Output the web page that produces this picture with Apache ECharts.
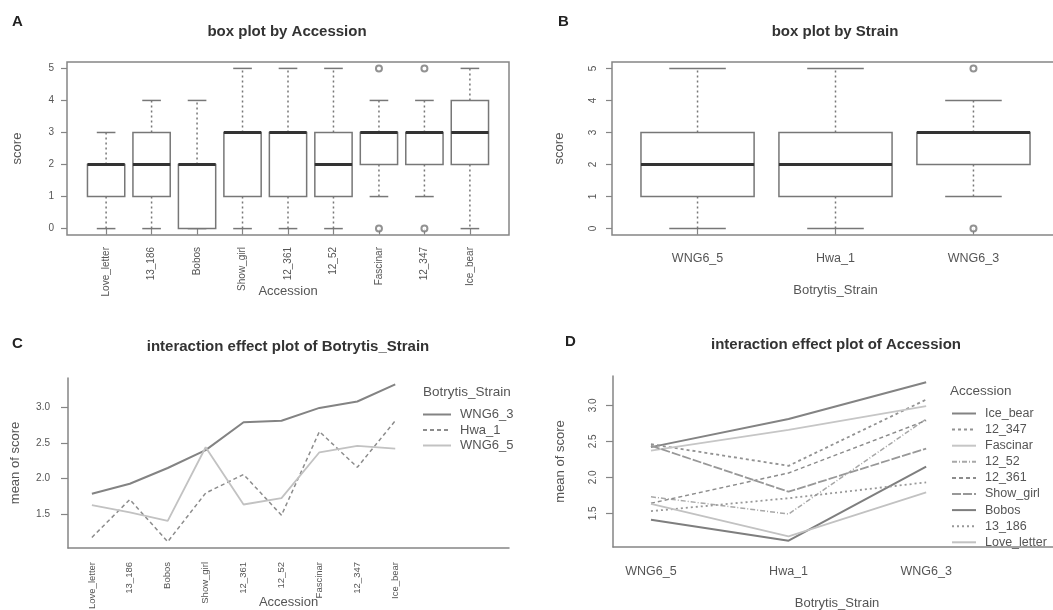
<!DOCTYPE html>
<html>
<head>
<meta charset="utf-8">
<script src="https://cdn.jsdelivr.net/npm/echarts@6/dist/echarts.min.js"></script>
<style>
html, body { margin: 0; background: #fff; }
#main { width: 1053px; height: 610px; }
</style>
</head>
<body>
<div id="main"></div>
<script>
var accessions = ['Love_letter', '13_186', 'Bobos', 'Show_girl', '12_361', '12_52', 'Fascinar', '12_347', 'Ice_bear'];
var strains = ['WNG6_5', 'Hwa_1', 'WNG6_3'];

// box stats: [min, Q1, median, Q3, max]
var accBox = [[0, 1, 2, 2, 3], [0, 1, 2, 3, 4], [0, 0, 2, 2, 4], [0, 1, 3, 3, 5], [0, 1, 3, 3, 5],
              [0, 1, 2, 3, 5], [1, 2, 3, 3, 4], [1, 2, 3, 3, 4], [0, 2, 3, 4, 5]];
var accOutlierName = ['Fascinar', 'Fascinar', '12_347', '12_347'];
var accOutlierValue = [0, 5, 0, 5];

var strainBox = [[0, 1, 2, 3, 5], [0, 1, 2, 3, 5], [1, 2, 3, 3, 4]];
var strainOutlierName = ['WNG6_3', 'WNG6_3'];
var strainOutlierValue = [0, 5];

// mean of score, one value per accession (same order as accessions)
var meanWNG6_3 = [1.79, 1.93, 2.15, 2.40, 2.79, 2.81, 2.99, 3.08, 3.32];
var meanHwa_1 = [1.18, 1.71, 1.12, 1.80, 2.06, 1.49, 2.66, 2.16, 2.81];
var meanWNG6_5 = [1.63, 1.53, 1.41, 2.44, 1.64, 1.73, 2.37, 2.46, 2.42];

var scoreTicks = [0, 1, 2, 3, 4, 5];
var meanTicks = [1.5, 2.0, 2.5, 3.0];
var strainLegend = ['WNG6_3', 'Hwa_1', 'WNG6_5'];
var accLegend = ['Ice_bear', '12_347', 'Fascinar', '12_52', '12_361', 'Show_girl', 'Bobos', '13_186', 'Love_letter'];

var FONT = '"Liberation Sans", Arial, sans-serif';
var frameColor = '#858585';
var boxColor = '#777';
var labelColor = '#555';

// line looks
var strainStyle = {
	'WNG6_3': { color: '#838383', width: 2, type: 'solid' },
	'Hwa_1': { color: '#8c8c8c', width: 1.5, type: [4, 3] },
	'WNG6_5': { color: '#c2c2c2', width: 1.8, type: 'solid' }
};
var accStyle = {
	'Ice_bear': { color: '#838383', width: 2, type: 'solid' },
	'12_347': { color: '#929292', width: 1.8, type: [3, 3] },
	'Fascinar': { color: '#c6c6c6', width: 1.8, type: 'solid' },
	'12_52': { color: '#a8a8a8', width: 1.5, type: [5, 2, 1, 2] },
	'12_361': { color: '#8c8c8c', width: 1.5, type: [4, 3] },
	'Show_girl': { color: '#989898', width: 1.8, type: [9, 2] },
	'Bobos': { color: '#7e7e7e', width: 2, type: 'solid' },
	'13_186': { color: '#989898', width: 1.8, type: [2, 3] },
	'Love_letter': { color: '#c2c2c2', width: 1.8, type: 'solid' }
};

function renderBox(params, api) {
	var x = api.value(0);
	var lo = api.value(1), q1 = api.value(2), md = api.value(3), q3 = api.value(4), hi = api.value(5);
	var half = api.size([0.41, 0])[0];
	var cap = half / 2;
	var pLo = api.coord([x, lo]), pQ1 = api.coord([x, q1]), pMd = api.coord([x, md]);
	var pQ3 = api.coord([x, q3]), pHi = api.coord([x, hi]);
	var cx = pMd[0];
	var solid = { stroke: boxColor, lineWidth: 1.5 };
	var dash = { stroke: boxColor, lineWidth: 1.5, lineDash: [2, 3] };
	var kids = [];
	if (hi > q3) kids.push({ type: 'line', shape: { x1: cx, y1: pQ3[1], x2: cx, y2: pHi[1] }, style: dash });
	if (lo < q1) kids.push({ type: 'line', shape: { x1: cx, y1: pQ1[1], x2: cx, y2: pLo[1] }, style: dash });
	kids.push({ type: 'line', shape: { x1: cx - cap, y1: pHi[1], x2: cx + cap, y2: pHi[1] }, style: solid });
	kids.push({ type: 'line', shape: { x1: cx - cap, y1: pLo[1], x2: cx + cap, y2: pLo[1] }, style: solid });
	kids.push({ type: 'rect', shape: { x: cx - half, y: pQ3[1], width: half * 2, height: pQ1[1] - pQ3[1] },
		style: { fill: '#fff', stroke: boxColor, lineWidth: 1.5 } });
	kids.push({ type: 'line', shape: { x1: cx - half, y1: pMd[1], x2: cx + half, y2: pMd[1] },
		style: { stroke: '#333', lineWidth: 3 } });
	return { type: 'group', children: kids };
}

function tickAxis(extra) {
	var base = {
		type: 'value',
		axisLine: { show: false },
		splitLine: { show: false },
		axisTick: { show: true, length: 6, lineStyle: { color: frameColor, width: 1.2 } },
		axisLabel: { color: labelColor, fontFamily: FONT, fontSize: 10 },
		nameLocation: 'middle',
		nameMoveOverlap: false,
		nameTextStyle: { color: labelColor, fontFamily: FONT, fontSize: 13 }
	};
	return echarts.util.merge(base, extra, true);
}

var idx1 = function (n) { var a = []; for (var i = 1; i <= n; i++) a.push(i); return a; };

var gridBase = { show: false, outerBoundsMode: 'none', containLabel: false };

var option = {
	animation: false,
	backgroundColor: '#fff',
	grid: [
		echarts.util.merge({ left: 67, top: 62, width: 442, height: 173, show: true, borderColor: frameColor, borderWidth: 1.5 }, gridBase),
		echarts.util.merge({ left: 612, top: 62, width: 447, height: 173, show: true, borderColor: frameColor, borderWidth: 1.5 }, gridBase),
		echarts.util.merge({ left: 68, top: 378, width: 441, height: 170 }, gridBase),
		echarts.util.merge({ left: 613, top: 376, width: 448, height: 171 }, gridBase)
	],
	xAxis: [
		tickAxis({ gridIndex: 0, min: 0.14, max: 9.86, name: 'Accession', nameGap: 50,
			axisTick: { customValues: idx1(9) },
			axisLabel: { customValues: idx1(9), rotate: 90, margin: 12, fontSize: 10,
				formatter: function (v) { return accessions[Math.round(v) - 1]; } } }),
		tickAxis({ gridIndex: 1, min: 0.38, max: 3.62, name: 'Botrytis_Strain', nameGap: 49,
			axisTick: { customValues: idx1(3) },
			axisLabel: { customValues: idx1(3), margin: 17, fontSize: 12.5,
				formatter: function (v) { return strains[Math.round(v) - 1]; } } }),
		tickAxis({ gridIndex: 2, min: 0.37, max: 12.0, name: 'Accession', nameGap: 48,
			axisLine: { show: true, lineStyle: { color: frameColor, width: 1.5 } },
			axisTick: { show: false },
			axisLabel: { customValues: idx1(9), rotate: 90, margin: 14, fontSize: 9.5,
				formatter: function (v) { return accessions[Math.round(v) - 1]; } } }),
		tickAxis({ gridIndex: 3, min: 0.724, max: 3.98, name: 'Botrytis_Strain', nameGap: 50,
			axisLine: { show: true, lineStyle: { color: frameColor, width: 1.5 } },
			axisTick: { show: false },
			axisLabel: { customValues: idx1(3), margin: 18, fontSize: 12.5,
				formatter: function (v) { return strains[Math.round(v) - 1]; } } })
	],
	yAxis: [
		tickAxis({ gridIndex: 0, min: -0.2, max: 5.2, name: 'score', nameGap: 43,
			axisTick: { customValues: scoreTicks },
			axisLabel: { customValues: scoreTicks, margin: 13 } }),
		tickAxis({ gridIndex: 1, min: -0.2, max: 5.2, name: 'score', nameGap: 46,
			axisTick: { customValues: scoreTicks },
			axisLabel: { customValues: scoreTicks, rotate: 90, margin: 14 } }),
		tickAxis({ gridIndex: 2, min: 1.032, max: 3.408, name: 'mean of score', nameGap: 46,
			axisLine: { show: true, lineStyle: { color: frameColor, width: 1.5 } },
			axisTick: { customValues: meanTicks, length: 7 },
			axisLabel: { customValues: meanTicks, margin: 18,
				formatter: function (v) { return v.toFixed(1); } } }),
		tickAxis({ gridIndex: 3, min: 1.032, max: 3.408, name: 'mean of score', nameGap: 46,
			axisLine: { show: true, lineStyle: { color: frameColor, width: 1.5 } },
			axisTick: { customValues: meanTicks, length: 7 },
			axisLabel: { customValues: meanTicks, rotate: 90, margin: 15,
				formatter: function (v) { return v.toFixed(1); } } })
	],
	legend: [
		{ data: strainLegend, orient: 'vertical', left: 422, top: 408, itemWidth: 28, itemHeight: 10, itemGap: 2.5,
			selectedMode: false, padding: 0, itemStyle: { opacity: 0 },
			textStyle: { color: labelColor, fontFamily: FONT, fontSize: 13, padding: [0, 0, 0, 4] } },
		{ data: accLegend, orient: 'vertical', left: 951, top: 407, itemWidth: 24, itemHeight: 10, itemGap: 3.1,
			selectedMode: false, padding: 0, itemStyle: { opacity: 0 },
			textStyle: { color: labelColor, fontFamily: FONT, fontSize: 12.5, padding: [0, 0, 0, 4] } }
	],
	graphic: [
		{ type: 'text', x: 12, y: 22, style: { text: 'A', font: 'bold 15px ' + FONT, fill: '#222', textVerticalAlign: 'middle' } },
		{ type: 'text', x: 558, y: 22, style: { text: 'B', font: 'bold 15px ' + FONT, fill: '#222', textVerticalAlign: 'middle' } },
		{ type: 'text', x: 12, y: 344, style: { text: 'C', font: 'bold 15px ' + FONT, fill: '#222', textVerticalAlign: 'middle' } },
		{ type: 'text', x: 565, y: 342, style: { text: 'D', font: 'bold 15px ' + FONT, fill: '#222', textVerticalAlign: 'middle' } },
		{ type: 'text', x: 287, y: 32, style: { text: 'box plot by Accession', font: 'bold 15px ' + FONT, fill: '#333', textAlign: 'center', textVerticalAlign: 'middle' } },
		{ type: 'text', x: 835, y: 32, style: { text: 'box plot by Strain', font: 'bold 15px ' + FONT, fill: '#333', textAlign: 'center', textVerticalAlign: 'middle' } },
		{ type: 'text', x: 288, y: 347, style: { text: 'interaction effect plot of Botrytis_Strain', font: 'bold 15px ' + FONT, fill: '#333', textAlign: 'center', textVerticalAlign: 'middle' } },
		{ type: 'text', x: 836, y: 345, style: { text: 'interaction effect plot of Accession', font: 'bold 15px ' + FONT, fill: '#333', textAlign: 'center', textVerticalAlign: 'middle' } },
		{ type: 'text', x: 423, y: 392, style: { text: 'Botrytis_Strain', font: '13.5px ' + FONT, fill: labelColor, textVerticalAlign: 'middle' } },
		{ type: 'text', x: 950, y: 391, style: { text: 'Accession', font: '13.5px ' + FONT, fill: labelColor, textVerticalAlign: 'middle' } }
	],
	series: []
};

// A: boxes by accession
option.series.push({
	type: 'custom', xAxisIndex: 0, yAxisIndex: 0, renderItem: renderBox, silent: true,
	encode: { x: 0, y: [1, 2, 3, 4, 5] },
	data: accBox.map(function (b, i) { return [i + 1].concat(b); })
});
option.series.push({
	type: 'scatter', xAxisIndex: 0, yAxisIndex: 0, symbol: 'emptyCircle', symbolSize: 6, silent: true,
	itemStyle: { color: boxColor, borderWidth: 1.2 },
	data: accOutlierName.map(function (n, i) { return [accessions.indexOf(n) + 1, accOutlierValue[i]]; })
});

// B: boxes by strain
option.series.push({
	type: 'custom', xAxisIndex: 1, yAxisIndex: 1, renderItem: renderBox, silent: true,
	encode: { x: 0, y: [1, 2, 3, 4, 5] },
	data: strainBox.map(function (b, i) { return [i + 1].concat(b); })
});
option.series.push({
	type: 'scatter', xAxisIndex: 1, yAxisIndex: 1, symbol: 'emptyCircle', symbolSize: 6, silent: true,
	itemStyle: { color: boxColor, borderWidth: 1.2 },
	data: strainOutlierName.map(function (n, i) { return [strains.indexOf(n) + 1, strainOutlierValue[i]]; })
});

// C: one line per strain across accessions
var strainMeans = { 'WNG6_3': meanWNG6_3, 'Hwa_1': meanHwa_1, 'WNG6_5': meanWNG6_5 };
strainLegend.forEach(function (s) {
	var st = strainStyle[s];
	option.series.push({
		type: 'line', name: s, xAxisIndex: 2, yAxisIndex: 2, symbol: 'none', silent: true,
		color: st.color,
		lineStyle: { color: st.color, width: st.width, type: st.type },
		data: strainMeans[s].map(function (v, i) { return [i + 1, v]; })
	});
});

// D: one line per accession across strains
accLegend.forEach(function (a) {
	var i = accessions.indexOf(a);
	var st = accStyle[a];
	option.series.push({
		type: 'line', name: a, xAxisIndex: 3, yAxisIndex: 3, symbol: 'none', silent: true,
		color: st.color,
		lineStyle: { color: st.color, width: st.width, type: st.type },
		data: [[1, meanWNG6_5[i]], [2, meanHwa_1[i]], [3, meanWNG6_3[i]]]
	});
});

var chart = echarts.init(document.getElementById('main'));
chart.setOption(option);
</script>
</body>
</html>
